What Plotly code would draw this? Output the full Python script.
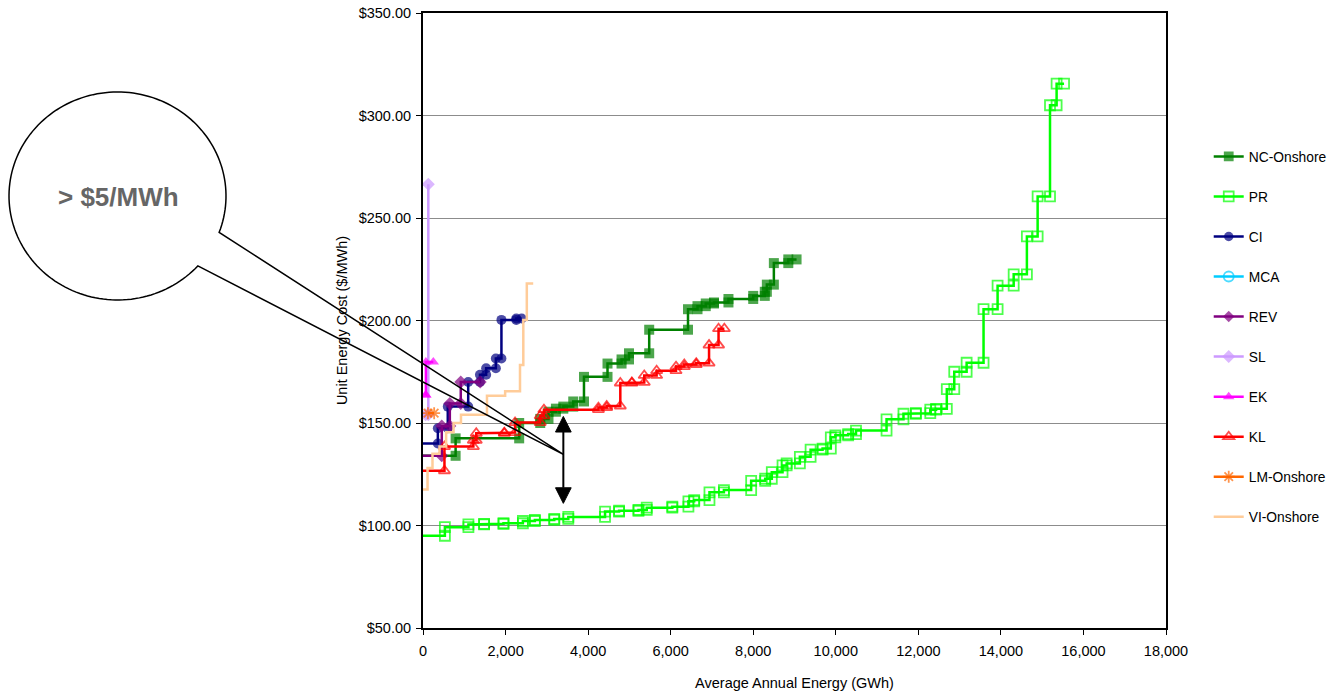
import numpy as np
import plotly.graph_objects as go

# ---- supply-curve data: energy breakpoints (GWh) and unit cost levels ($/MWh) ----
nc_gwh = [0, 790, 2330, 2840, 3040, 3220, 3400, 3640, 3900, 4470, 4810, 4990, 5480,
          6420, 6650, 6850, 7050, 7400, 8000, 8280, 8330, 8500, 8850]
nc_cost = [134, 142.5, 150, 152, 155.5, 157, 158, 160.5, 172.5, 179, 181, 184, 195.5,
           205.5, 207, 208.3, 208.8, 210.5, 212, 214, 217.5, 228, 229.8]
nc_end = 9050

pr_gwh = [0, 530, 1100, 1480, 1950, 2420, 2710, 3180, 3520, 4410, 4750, 5220, 5420,
          6040, 6430, 6570, 6940, 7290, 7950, 8290, 8450, 8710, 8810, 9130, 9390, 9680,
          9880, 9990, 10300, 10490, 11230, 11640, 11940, 12290, 12430, 12690, 12870,
          13170, 13580, 13920, 14310, 14630, 14890, 15190, 15350]
pr_cost = [95, 99.2, 100.5, 100.8, 101.1, 102.2, 102.7, 103.2, 104.2, 106.8, 107.2,
           107.6, 108.7, 109.2, 111.8, 112.4, 116.2, 117.3, 121.8, 122.8, 126, 129.3,
           130.3, 133.5, 137, 137.5, 143, 144, 144.6, 146.3, 151.8, 154.5, 154.8, 156.5,
           156.9, 166.5, 175, 179.4, 205.5, 217, 222.5, 241, 260.5, 305, 315.5]
pr_end = 15530

ci_gwh = [0, 360, 600, 1095, 1380, 1530, 1765, 1900, 2260]
ci_cost = [140, 147.4, 158, 170, 173.5, 176.7, 181.5, 200.3, 201]
ci_end = 2390

mca_gwh = []
mca_cost = []
mca_end = None

rev_gwh = [0, 455, 650, 915]
rev_cost = [134, 148.5, 159.5, 170]
rev_end = 1385

sl_gwh = [63, 129]
sl_cost = [154, 266.5]
sl_end = None

ek_gwh = [65, 70]
ek_cost = [163.7, 179.7]
ek_end = 250

kl_gwh = [0, 520, 1220, 1290, 1970, 2230, 2840, 2930, 4250, 4450, 4780, 5060, 5360,
          5660, 6130, 6330, 6620, 6930, 7160]
kl_cost = [126.7, 138.5, 141.5, 145, 145.3, 150.2, 153.5, 156.5, 157.5, 158.3, 169.5,
           169.8, 173.2, 175.5, 177.5, 178.5, 179.2, 188, 196]
kl_end = 7300

lm_gwh = [120]
lm_cost = [154.8]
lm_end = 270

vi_gwh = [0, 110, 230, 400, 560, 740, 920, 1550, 1990, 2350, 2430, 2515]
vi_cost = [117.5, 128, 135, 138.5, 145.5, 150, 154, 163.3, 165.5, 178.3, 200.2, 218]
vi_end = 2670

# arrow marking the cost gap
gap_gwh = 3400
gap_top = 153.2
gap_bottom = 110.8
callout_text = "&gt; $5/MWh"


def step_path(gwh, cost, end):
    """Turn breakpoints/levels into the vertices of a stepped supply curve."""
    if not gwh:
        return [None], [None]
    xs, ys = [gwh[0]], [cost[0]]
    for i in range(1, len(gwh)):
        xs += [gwh[i], gwh[i]]
        ys += [cost[i - 1], cost[i]]
    if end is not None:
        xs.append(end)
        ys.append(cost[-1])
    return xs, ys


series = [
    ("NC-Onshore", nc_gwh, nc_cost, nc_end, "#008000", "square"),
    ("PR", pr_gwh, pr_cost, pr_end, "#00FF00", "square-open"),
    ("CI", ci_gwh, ci_cost, ci_end, "#000080", "circle"),
    ("MCA", mca_gwh, mca_cost, mca_end, "#00CCFF", "circle-open"),
    ("REV", rev_gwh, rev_cost, rev_end, "#800080", "diamond"),
    ("SL", sl_gwh, sl_cost, sl_end, "#CC99FF", "diamond"),
    ("EK", ek_gwh, ek_cost, ek_end, "#FF00FF", "triangle-up"),
    ("KL", kl_gwh, kl_cost, kl_end, "#FF0000", "triangle-up-open"),
    ("LM-Onshore", lm_gwh, lm_cost, lm_end, "#FF6600", "asterisk-open"),
    ("VI-Onshore", vi_gwh, vi_cost, vi_end, "#FFCC99", None),
]

fig = go.Figure()
for name, gwh, cost, end, color, symbol in series:
    xs, ys = step_path(gwh, cost, end)
    # curves that start on the axis have no marker at the origin point
    sizes = [10] * len(xs)
    if gwh and gwh[0] == 0:
        sizes[0] = 0
    if symbol is None:
        mode = "lines"
        marker = None
    else:
        mode = "lines+markers"
        marker = dict(symbol=symbol, size=sizes, color=color,
                      line=dict(color=color, width=1.8 if "open" in symbol else 0))
    fig.add_trace(go.Scatter(
        x=xs, y=ys, name=name, mode=mode, legendgroup=name,
        line=dict(color=color, width=2.5),
        marker=marker,
    ))

# plot-area pixel frame, used to place the callout balloon in paper units
L, R, T, B = 423, 1166, 13, 628


def to_paper(px, py):
    return (px - L) / (R - L), (B - py) / (B - T)


cx, cy, rx, ry = 117.5, 196.0, 108.5, 104.0
attach1 = (220.2, 232.7)
attach2 = (198.0, 266.0)
tip = (563.3, 454.3)
a0 = np.arctan2((attach1[1] - cy) / ry, (attach1[0] - cx) / rx)
a1 = np.arctan2((attach2[1] - cy) / ry, (attach2[0] - cx) / rx)
theta = np.linspace(a0, a1 - 2 * np.pi, 160)
pts = [to_paper(cx + rx * np.cos(t), cy + ry * np.sin(t)) for t in theta]
pts.append(to_paper(*tip))
path = "M " + " L ".join(f"{x:.5f},{y:.5f}" for x, y in pts) + " Z"

shapes = [
    dict(type="path", xref="paper", yref="paper", path=path,
         line=dict(color="black", width=1.5), fillcolor="rgba(0,0,0,0)", layer="above"),
]

# double-headed arrow
head_h = 7.6
head_w = 190
shapes.append(dict(type="line", xref="x", yref="y", x0=gap_gwh, x1=gap_gwh,
                   y0=gap_bottom + head_h, y1=gap_top - head_h,
                   line=dict(color="black", width=2)))
shapes.append(dict(type="path", xref="x", yref="y",
                   path=(f"M {gap_gwh},{gap_top} L {gap_gwh - head_w},{gap_top - head_h} "
                         f"L {gap_gwh + head_w},{gap_top - head_h} Z"),
                   fillcolor="black", line=dict(color="black", width=1)))
shapes.append(dict(type="path", xref="x", yref="y",
                   path=(f"M {gap_gwh},{gap_bottom} L {gap_gwh - head_w},{gap_bottom + head_h} "
                         f"L {gap_gwh + head_w},{gap_bottom + head_h} Z"),
                   fillcolor="black", line=dict(color="black", width=1)))

tx, ty = to_paper(cx + 1, cy + 1)
annotations = [
    dict(x=tx, y=ty, xref="paper", yref="paper", text=f"<b>{callout_text}</b>",
         showarrow=False, font=dict(family="Liberation Sans, Arial", size=26, color="#666666"),
         xanchor="center", yanchor="middle"),
]

font = dict(family="Liberation Sans, Arial", size=14.5, color="black")
fig.update_layout(
    width=1329, height=693,
    margin=dict(l=L, r=1329 - R, t=T, b=693 - B, autoexpand=False),
    paper_bgcolor="white", plot_bgcolor="white",
    font=font,
    showlegend=True,
    legend=dict(x=1.0575, y=0.792, xanchor="left", yanchor="top",
                traceorder="grouped", tracegroupgap=19.1,
                font=dict(family="Liberation Sans, Arial", size=13.8, color="black"),
                bgcolor="rgba(0,0,0,0)", itemwidth=30),
    xaxis=dict(range=[0, 18000], dtick=2000, tickformat=",", showgrid=False,
               zeroline=False, showline=True, linecolor="black", linewidth=1.5,
               mirror=True, ticks="outside", ticklen=5, tickcolor="black",
               ticklabelstandoff=4, automargin=False,
               title=dict(text="Average Annual Energy (GWh)", font=font, standoff=20),
               tickfont=font),
    yaxis=dict(range=[50, 350], dtick=50, tickprefix="$", tickformat=".2f",
               showgrid=True, gridcolor="#8c8c8c", gridwidth=1, zeroline=False,
               showline=True, linecolor="black", linewidth=2, mirror=True,
               ticks="outside", ticklen=5, tickcolor="black",
               ticklabelstandoff=2, automargin=False,
               title=dict(text="Unit Energy Cost ($/MWh)", font=font, standoff=8),
               tickfont=font),
    shapes=shapes,
    annotations=annotations,
)

fig.write_html("out.html")
